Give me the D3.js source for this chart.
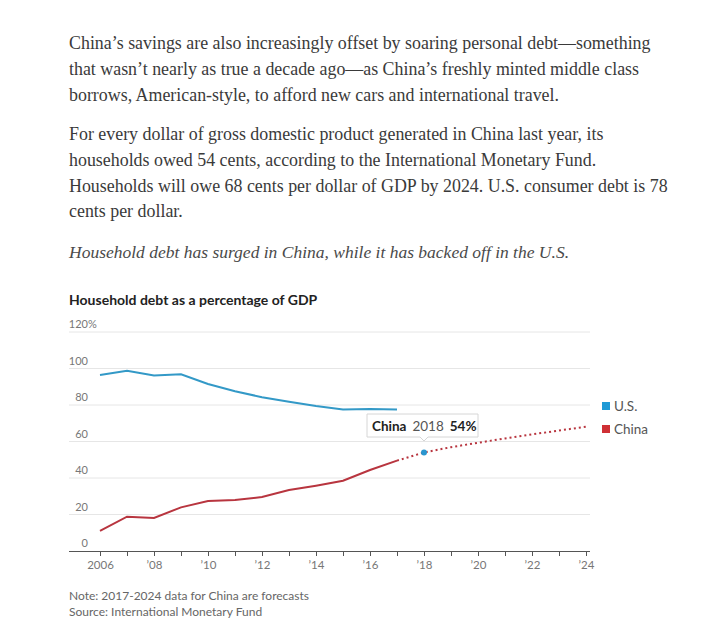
<!DOCTYPE html>
<html><head><meta charset="utf-8">
<script src="https://cdn.jsdelivr.net/npm/d3@7/dist/d3.min.js"></script>
<style>
html,body{margin:0;padding:0;background:#fff;}
svg{display:block;}
</style></head>
<body>
<script>
const paragraphs = [
  ["China\u2019s savings are also increasingly offset by soaring personal debt\u2014something",
   "that wasn\u2019t nearly as true a decade ago\u2014as China\u2019s freshly minted middle class",
   "borrows, American-style, to afford new cars and international travel."],
  ["For every dollar of gross domestic product generated in China last year, its",
   "households owed 54 cents, according to the International Monetary Fund.",
   "Households will owe 68 cents per dollar of GDP by 2024. U.S. consumer debt is 78",
   "cents per dollar."]
];
const subhead = "Household debt has surged in China, while it has backed off in the U.S.";
const chartTitle = "Household debt as a percentage of GDP";
const notes = ["Note: 2017-2024 data for China are forecasts", "Source: International Monetary Fund"];

const usYears =   [2006, 2007, 2008, 2009, 2010, 2011, 2012, 2013, 2014, 2015, 2016, 2017];
const usValues =  [96.5, 98.7, 96.2, 96.8, 91.5, 87.5, 84.3, 81.8, 79.5, 77.6, 77.8, 77.5];
const cnYears =   [2006, 2007, 2008, 2009, 2010, 2011, 2012, 2013, 2014, 2015, 2016, 2017];
const cnValues =  [11.0, 18.8, 18.1, 23.9, 27.4, 27.9, 29.6, 33.4, 35.8, 38.5, 44.4, 49.5];
const cnFcYears = [2017, 2018, 2019, 2020, 2021, 2022, 2023, 2024];
const cnFcValues= [49.5, 54.0, 56.9, 59.3, 61.7, 63.9, 66.0, 68.1];
const yTicks = [0, 20, 40, 60, 80, 100, 120];
const xTickLabels = ["2006","\u201908","\u201910","\u201912","\u201914","\u201916","\u201918","\u201920","\u201922","\u201924"];
const legendItems = ["U.S.", "China"];
const tip = {series:"China", year:2018, value:54};

const W = 704, H = 630;
const svg = d3.select("body").append("svg").attr("width", W).attr("height", H);

const serif = "'Liberation Serif','Times New Roman',serif";
const sans = "Lato,'Noto Sans',sans-serif";

// paragraphs
const paraBase = [49, 140];
paragraphs.forEach((p, i) => {
  p.forEach((line, j) => {
    svg.append("text").attr("x", 69).attr("y", paraBase[i] + j * 25.8)
      .attr("font-family", serif).attr("font-size", 17.9).attr("fill", "#3a3a3a")
      .text(line);
  });
});
svg.append("text").attr("x", 69).attr("y", 258)
  .attr("font-family", serif).attr("font-size", 17.5).attr("font-style", "italic").attr("fill", "#4a4a4a")
  .text(subhead);

// chart title
svg.append("text").attr("x", 69).attr("y", 305)
  .attr("font-family", sans).attr("font-size", 14).attr("font-weight", "bold").attr("fill", "#222")
  .text(chartTitle);

const x = d3.scaleLinear().domain([2006, 2024]).range([100, 586]);
const y = d3.scaleLinear().domain([0, 120]).range([551, 332]);

// gridlines
const grid = svg.append("g");
yTicks.filter(t => t > 0).forEach(t => {
  grid.append("line").attr("x1", 69).attr("x2", 590).attr("y1", y(t)).attr("y2", y(t))
    .attr("stroke", "#e6e6e6").attr("stroke-width", 1);
});
yTicks.forEach(t => {
  grid.append("text").attr("x", 88).attr("y", y(t) - 4).attr("text-anchor", "end")
    .attr("font-family", sans).attr("font-size", 11).attr("fill", "#777").text(t);
  if (t === 120) grid.append("text").attr("x", 88).attr("y", y(t) - 4)
    .attr("font-family", sans).attr("font-size", 11).attr("fill", "#777").text("%");
});

// x axis
const years = d3.range(2006, 2025);
const xAxis = d3.axisBottom(x).tickValues(years).tickSize(5)
  .tickFormat(d => (d % 2 === 0) ? xTickLabels[(d - 2006) / 2] : "");
const ax = svg.append("g").attr("transform", `translate(0,${y(0)})`).call(xAxis);
ax.select(".domain").attr("d", `M69,0.5H590`).attr("stroke", "#555").attr("stroke-width", 1.2);
ax.selectAll(".tick line").attr("stroke", "#555");
ax.selectAll(".tick text").attr("font-family", sans).attr("font-size", 11.5).attr("fill", "#777").attr("dy", "0.85em");

const line = d3.line().x(d => x(d[0])).y(d => y(d[1]));
const usColor = "#3399c7", cnColor = "#b8353f";
svg.append("path").datum(usYears.map((d, i) => [d, usValues[i]])).attr("d", line)
  .attr("fill", "none").attr("stroke", usColor).attr("stroke-width", 2);
svg.append("path").datum(cnYears.map((d, i) => [d, cnValues[i]])).attr("d", line)
  .attr("fill", "none").attr("stroke", cnColor).attr("stroke-width", 2);
svg.append("path").datum(cnFcYears.map((d, i) => [d, cnFcValues[i]])).attr("d", line)
  .attr("fill", "none").attr("stroke", cnColor).attr("stroke-width", 2).attr("stroke-dasharray", "2,3");

// legend
const legColors = ["#1f9ad6", "#cf3035"];
legendItems.forEach((l, i) => {
  svg.append("rect").attr("x", 602).attr("y", 402 + i * 23).attr("width", 8).attr("height", 8).attr("fill", legColors[i]);
  svg.append("text").attr("x", 614).attr("y", 411 + i * 23).attr("font-family", sans).attr("font-size", 13.5)
    .attr("fill", "#555").text(l);
});

// tooltip
const tx = x(tip.year), ty = y(tip.value);
svg.append("circle").attr("cx", tx).attr("cy", ty).attr("r", 3).attr("fill", "#2a96cf");
const bx = 367, bw = 111, by = 414, bh = 23;
svg.append("path")
  .attr("d", `M${bx},${by}H${bx+bw}V${by+bh}H${tx+4}L${tx},${by+bh+4}L${tx-4},${by+bh}H${bx}Z`)
  .attr("fill", "#fff").attr("stroke", "#d6d6d6").attr("stroke-width", 1);
const tt = svg.append("text").attr("x", bx + 5).attr("y", by + 17).attr("font-family", sans).attr("font-size", 13.5).attr("fill", "#222");
tt.append("tspan").attr("font-weight", "bold").text(tip.series);
tt.append("tspan").attr("dx", 6).attr("fill", "#555").text(tip.year);
tt.append("tspan").attr("dx", 6).attr("font-weight", "bold").text(tip.value + "%");

// notes
notes.forEach((n, i) => {
  svg.append("text").attr("x", 69).attr("y", 600 + i * 16).attr("font-family", sans).attr("font-size", 12)
    .attr("fill", "#666").text(n);
});
</script>
</body></html>
